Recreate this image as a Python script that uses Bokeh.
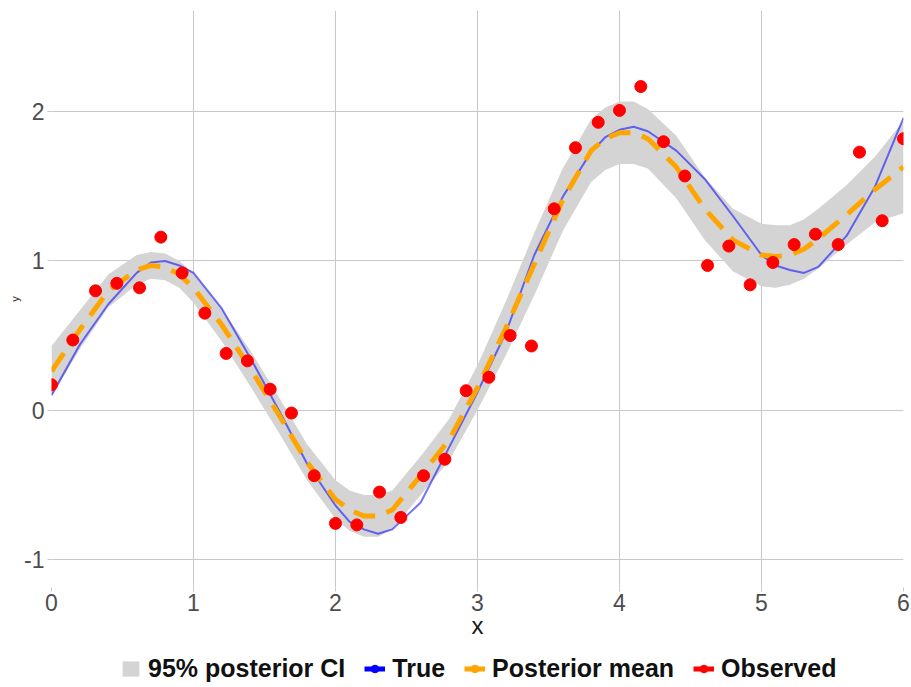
from bokeh.plotting import figure
from bokeh.layouts import column
from bokeh.models import Range1d, Legend, LegendItem, FixedTicker
from bokeh.embed import file_html
from bokeh.resources import INLINE

# ---- data ----
x_grid = [0.0, 0.2, 0.4, 0.6, 0.7, 0.8, 0.9, 1.0, 1.2, 1.4, 1.6, 1.8, 2.0, 2.1, 2.2, 2.3, 2.4,
          2.6, 2.8, 3.0, 3.2, 3.4, 3.6, 3.8, 3.9, 4.0, 4.1, 4.2, 4.4, 4.6, 4.8, 5.0, 5.1, 5.2,
          5.3, 5.4, 5.6, 5.8, 6.0]
true_y = [0.10, 0.44, 0.71, 0.92, 0.99, 1.00, 0.97, 0.92, 0.68, 0.35, 0.00, -0.36, -0.64, -0.75,
          -0.80, -0.83, -0.80, -0.62, -0.25, 0.12, 0.52, 1.04, 1.43, 1.73, 1.83, 1.88, 1.90, 1.87,
          1.74, 1.55, 1.30, 1.04, 0.97, 0.94, 0.92, 0.96, 1.17, 1.50, 1.96]
mean_y = [0.26, 0.54, 0.80, 0.94, 0.97, 0.96, 0.91, 0.82, 0.57, 0.28, -0.03, -0.35, -0.60, -0.67,
          -0.71, -0.71, -0.67, -0.44, -0.20, 0.15, 0.55, 0.98, 1.41, 1.74, 1.82, 1.86, 1.86, 1.82,
          1.63, 1.35, 1.14, 1.04, 1.03, 1.04, 1.08, 1.15, 1.31, 1.48, 1.63]
lower_y = [0.09, 0.41, 0.69, 0.84, 0.88, 0.87, 0.82, 0.72, 0.46, 0.16, -0.15, -0.47, -0.73, -0.81,
           -0.85, -0.85, -0.80, -0.57, -0.34, 0.00, 0.37, 0.77, 1.20, 1.53, 1.61, 1.65, 1.65, 1.62,
           1.42, 1.14, 0.93, 0.83, 0.82, 0.84, 0.88, 0.95, 1.11, 1.26, 1.32]
upper_y = [0.43, 0.67, 0.91, 1.04, 1.06, 1.05, 1.00, 0.92, 0.68, 0.40, 0.09, -0.23, -0.47, -0.54,
           -0.57, -0.57, -0.54, -0.31, -0.06, 0.30, 0.73, 1.19, 1.62, 1.95, 2.03, 2.07, 2.07, 2.02,
           1.84, 1.56, 1.35, 1.25, 1.24, 1.24, 1.28, 1.35, 1.51, 1.70, 1.94]
obs_x = [0.00, 0.15, 0.31, 0.46, 0.62, 0.77, 0.92, 1.08, 1.23, 1.38, 1.54, 1.69, 1.85, 2.00,
         2.15, 2.31, 2.46, 2.62, 2.77, 2.92, 3.08, 3.23, 3.38, 3.54, 3.69, 3.85, 4.00, 4.15,
         4.31, 4.46, 4.62, 4.77, 4.92, 5.08, 5.23, 5.38, 5.54, 5.69, 5.85, 6.00]
obs_y = [0.17, 0.47, 0.80, 0.85, 0.82, 1.16, 0.92, 0.65, 0.38, 0.33, 0.14, -0.02, -0.44, -0.76,
         -0.77, -0.55, -0.72, -0.44, -0.33, 0.13, 0.22, 0.50, 0.43, 1.35, 1.76, 1.93, 2.01, 2.17,
         1.80, 1.57, 0.97, 1.10, 0.84, 0.99, 1.11, 1.18, 1.11, 1.73, 1.27, 1.82]
x_ticks = [0, 1, 2, 3, 4, 5, 6]
y_ticks = [-1, 0, 1, 2]
y_tick_labels = {-1: "-1", 0: "0", 1: "1", 2: "2"}
legend_labels = ["95% posterior CI", "True", "Posterior mean", "Observed"]

FONT = "Liberation Sans"

# ---------------- main plot ----------------
p = figure(frame_width=852, frame_height=577, output_backend="svg", toolbar_location=None,
           x_range=Range1d(0, 6), y_range=Range1d(-1.19, 2.68),
           min_border_left=51, min_border_right=8, min_border_top=10,
           min_border_bottom=0)
p.background_fill_color = "white"
p.border_fill_color = "white"
p.outline_line_color = None

p.xaxis.ticker = FixedTicker(ticks=x_ticks)
p.yaxis.ticker = FixedTicker(ticks=y_ticks)
p.yaxis.major_label_overrides = y_tick_labels
p.xgrid.grid_line_color = "#c8c8c8"
p.ygrid.grid_line_color = "#c8c8c8"

for ax in (p.xaxis, p.yaxis):
    ax.axis_line_color = None
    ax.major_tick_line_color = "#c8c8c8"
    ax.major_tick_in = 0
    ax.major_tick_out = 4
    ax.minor_tick_line_color = None
    ax.major_label_text_font = FONT
    ax.major_label_text_font_size = "23px"
    ax.major_label_text_color = "#4d4d4d"
    ax.axis_label_text_font = FONT
    ax.axis_label_text_font_style = "normal"
    ax.axis_label_text_color = "#1a1a1a"

p.xaxis.major_label_standoff = 2
p.xaxis.axis_label = "x"
p.xaxis.axis_label_text_font_size = "24px"
p.xaxis.axis_label_standoff = -2
p.yaxis.major_label_standoff = 3
p.yaxis.axis_label = "y"
p.yaxis.axis_label_text_font_size = "11px"
p.yaxis.axis_label_standoff = 0

p.varea(x=x_grid, y1=lower_y, y2=upper_y, fill_color="#d4d4d4")
p.line(x_grid, true_y, line_color="blue", line_alpha=0.55, line_width=2)
p.line(x_grid, mean_y, line_color="orange", line_width=5, line_dash="22 12")
p.scatter(obs_x, obs_y, size=12, fill_color="red", line_color="red")

# ---------------- legend strip ----------------
lg = figure(width=911, height=42, output_backend="svg", toolbar_location=None,
            x_axis_location=None, y_axis_location=None,
            x_range=Range1d(0, 6), y_range=Range1d(-1.19, 2.68),
            min_border=0, min_border_left=0, min_border_right=0,
            min_border_top=0, min_border_bottom=0)
lg.grid.visible = False
lg.outline_line_color = None
lg.background_fill_color = "white"
lg.border_fill_color = "white"

# key glyphs (renderers hidden, only their legend keys are drawn)
k_band = lg.varea(x=x_grid, y1=lower_y, y2=upper_y, fill_color="#d4d4d4")
kt_l = lg.line(x_grid, true_y, line_color="blue", line_width=5)
kt_c = lg.scatter(obs_x, obs_y, size=10, fill_color="blue", line_color="blue")
km_l = lg.line(x_grid, mean_y, line_color="orange", line_width=5)
km_c = lg.scatter(obs_x, obs_y, size=10, fill_color="orange", line_color="orange")
ko_l = lg.line(obs_x, obs_y, line_color="red", line_width=5)
ko_c = lg.scatter(obs_x, obs_y, size=10, fill_color="red", line_color="red")
for r in (k_band, kt_l, kt_c, km_l, km_c, ko_l, ko_c):
    r.visible = False

legend = Legend(items=[
    LegendItem(label=legend_labels[0], renderers=[k_band]),
    LegendItem(label=legend_labels[1], renderers=[kt_l, kt_c]),
    LegendItem(label=legend_labels[2], renderers=[km_l, km_c]),
    LegendItem(label=legend_labels[3], renderers=[ko_l, ko_c]),
], orientation="horizontal", location=(69, 0),
    label_text_font=FONT, label_text_font_size="25px", label_text_font_style="bold",
    label_text_color="#111111", glyph_width=21, glyph_height=19, label_standoff=7,
    label_height=19, spacing=19, border_line_color=None, background_fill_alpha=0,
    padding=0, margin=0, inactive_fill_alpha=0)
lg.add_layout(legend, "center")

layout = column(p, lg, spacing=0)
open("out.html", "w").write(file_html(layout, INLINE))
